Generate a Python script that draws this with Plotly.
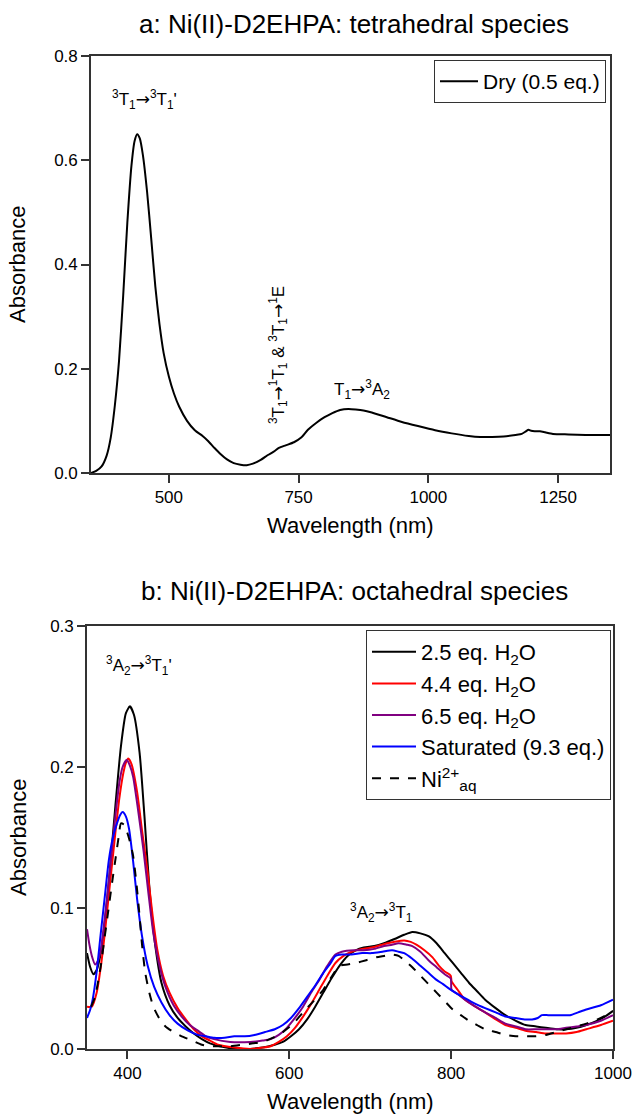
import plotly.graph_objects as go

# ---------------- Data ----------------
dry_wl = [350, 360, 370, 380, 388, 396, 404, 412, 420, 428, 434, 439, 444, 450, 458, 466, 474, 482, 490, 500,
          510, 520, 535, 550, 565, 575, 588, 600, 612, 625, 638, 650, 662, 677, 690, 702, 712, 725, 741, 755,
          768, 785, 800, 815, 830, 846, 860, 875, 891, 920, 949, 980, 1013, 1045, 1078, 1100, 1123, 1145, 1168,
          1180, 1188, 1193, 1198, 1205, 1215, 1225, 1240, 1270, 1303, 1350]
dry_abs = [0.000, 0.004, 0.012, 0.033, 0.068, 0.130, 0.215, 0.340, 0.480, 0.590, 0.637, 0.650, 0.642, 0.610,
           0.540, 0.450, 0.357, 0.285, 0.230, 0.185, 0.152, 0.127, 0.100, 0.082, 0.071, 0.062, 0.048, 0.036,
           0.026, 0.019, 0.016, 0.015, 0.018, 0.025, 0.034, 0.041, 0.048, 0.053, 0.059, 0.068, 0.083, 0.097,
           0.107, 0.115, 0.121, 0.123, 0.122, 0.120, 0.116, 0.107, 0.098, 0.090, 0.082, 0.076, 0.071, 0.069,
           0.069, 0.070, 0.073, 0.075, 0.080, 0.083, 0.081, 0.080, 0.080, 0.078, 0.075, 0.074, 0.073, 0.073]

eq25_wl = [350, 354, 358, 362, 367, 372, 378, 385, 392, 398, 403, 408, 415, 421, 427, 434, 442, 452, 462, 472,
           482, 492, 502, 522, 542, 567, 582, 592, 602, 612, 622, 632, 642, 652, 662, 672, 682, 692, 705, 717,
           730, 742, 752, 762, 772, 782, 792, 802, 812, 822, 832, 842, 855, 867, 880, 892, 905, 917, 930, 942,
           955, 967, 980, 990, 1000]
eq25_abs = [0.068, 0.058, 0.053, 0.056, 0.068, 0.090, 0.125, 0.172, 0.215, 0.238, 0.243, 0.237, 0.210, 0.165,
            0.115, 0.075, 0.047, 0.031, 0.022, 0.016, 0.011, 0.007, 0.004, 0.001, 0.000, 0.001, 0.003, 0.005,
            0.009, 0.014, 0.021, 0.030, 0.040, 0.050, 0.059, 0.066, 0.070, 0.072, 0.073, 0.075, 0.078, 0.081,
            0.083, 0.082, 0.080, 0.075, 0.068, 0.061, 0.054, 0.047, 0.041, 0.035, 0.029, 0.024, 0.020, 0.017,
            0.016, 0.015, 0.014, 0.014, 0.015, 0.017, 0.020, 0.023, 0.027]

eq44_wl = [350, 356, 362, 367, 372, 378, 385, 390, 395, 398, 401, 405, 412, 418, 425, 431, 437, 444, 452, 462,
           472, 482, 492, 502, 512, 532, 552, 567, 577, 587, 597, 607, 617, 627, 637, 647, 657, 667, 677, 690,
           702, 715, 730, 742, 750, 757, 767, 777, 785, 792, 799.5, 800.5, 808, 817, 830, 842, 855, 867, 880,
           892, 905, 917, 930, 942, 955, 967, 985, 1000]
eq44_abs = [0.030, 0.030, 0.040, 0.058, 0.082, 0.115, 0.153, 0.178, 0.196, 0.203, 0.206, 0.202, 0.182, 0.155,
            0.125, 0.095, 0.070, 0.052, 0.040, 0.029, 0.021, 0.014, 0.009, 0.006, 0.003, 0.001, 0.000, 0.001,
            0.002, 0.005, 0.009, 0.015, 0.023, 0.032, 0.042, 0.052, 0.061, 0.066, 0.069, 0.071, 0.072, 0.074,
            0.076, 0.077, 0.076, 0.074, 0.070, 0.065, 0.059, 0.055, 0.052, 0.048, 0.042, 0.035, 0.030, 0.026,
            0.021, 0.017, 0.015, 0.013, 0.012, 0.011, 0.011, 0.011, 0.012, 0.014, 0.017, 0.020]

eq65_wl = [350, 353, 356, 360, 363, 367, 371, 375, 380, 385, 390, 394, 399, 403, 407, 413, 420, 426, 432, 440,
           447, 457, 467, 477, 487, 497, 507, 527, 552, 567, 577, 587, 597, 607, 617, 627, 637, 647, 657, 665,
           680, 692, 705, 717, 727, 735, 745, 752, 762, 772, 782, 792, 799.5, 800.5, 808, 817, 830, 842, 855,
           867, 880, 892, 905, 917, 930, 942, 955, 967, 985, 1000]
eq65_abs = [0.085, 0.074, 0.066, 0.060, 0.062, 0.070, 0.088, 0.108, 0.137, 0.165, 0.189, 0.200, 0.205, 0.201,
            0.193, 0.170, 0.140, 0.110, 0.082, 0.058, 0.044, 0.031, 0.023, 0.017, 0.013, 0.009, 0.007, 0.005,
            0.005, 0.006, 0.007, 0.010, 0.015, 0.022, 0.030, 0.040, 0.049, 0.059, 0.067, 0.069, 0.070, 0.070,
            0.071, 0.073, 0.074, 0.075, 0.074, 0.073, 0.069, 0.063, 0.058, 0.053, 0.050, 0.042, 0.039, 0.035,
            0.030, 0.026, 0.022, 0.018, 0.016, 0.014, 0.014, 0.014, 0.014, 0.015, 0.016, 0.017, 0.020, 0.024]

sat_wl = [350, 354, 357, 362, 367, 372, 377, 382, 387, 391, 394, 398, 402, 407, 412, 418, 425, 433, 442, 452,
          462, 475, 487, 497, 507, 520, 532, 545, 557, 570, 582, 592, 602, 612, 622, 632, 642, 650, 657, 665,
          677, 690, 702, 715, 727, 735, 742, 752, 762, 772, 782, 790, 797, 805, 817, 830, 842, 855, 867, 880,
          892, 900, 907, 912, 920, 932, 947, 957, 967, 985, 1000]
sat_abs = [0.022, 0.028, 0.035, 0.055, 0.082, 0.108, 0.134, 0.150, 0.160, 0.166, 0.168, 0.165, 0.156, 0.133,
           0.106, 0.080, 0.059, 0.044, 0.033, 0.024, 0.018, 0.013, 0.010, 0.009, 0.008, 0.008, 0.009, 0.009,
           0.010, 0.012, 0.014, 0.017, 0.022, 0.029, 0.037, 0.045, 0.054, 0.060, 0.066, 0.067, 0.067, 0.068,
           0.068, 0.069, 0.070, 0.069, 0.068, 0.064, 0.059, 0.054, 0.049, 0.046, 0.043, 0.040, 0.036, 0.032,
           0.029, 0.026, 0.023, 0.022, 0.021, 0.021, 0.022, 0.024, 0.024, 0.024, 0.024, 0.026, 0.028, 0.031, 0.035]

aq_wl = [355, 360, 367, 372, 377, 381, 385, 389, 392, 396, 400, 404, 407, 411, 415, 418, 422, 427, 432, 440,
         447, 457, 467, 480, 492, 502, 512, 527, 542, 555, 567, 580, 592, 605, 617, 630, 642, 652, 662, 672,
         682, 695, 707, 717, 727, 735, 742, 752, 762, 772, 782, 792, 802, 812, 822, 832, 842, 855, 867, 880,
         892, 905, 917, 930, 942, 955, 967, 985, 1000]
aq_abs = [0.030, 0.037, 0.059, 0.080, 0.101, 0.118, 0.134, 0.150, 0.160, 0.159, 0.153, 0.145, 0.137, 0.118,
          0.094, 0.074, 0.054, 0.040, 0.030, 0.021, 0.016, 0.012, 0.009, 0.006, 0.003, 0.002, 0.002, 0.002,
          0.003, 0.004, 0.005, 0.008, 0.012, 0.018, 0.026, 0.034, 0.042, 0.051, 0.059, 0.060, 0.061, 0.063,
          0.065, 0.066, 0.067, 0.066, 0.063, 0.058, 0.052, 0.046, 0.040, 0.034, 0.028, 0.024, 0.020, 0.017,
          0.014, 0.012, 0.010, 0.009, 0.009, 0.009, 0.010, 0.012, 0.014, 0.016, 0.018, 0.022, 0.027]

top_xticks = [500, 750, 1000, 1250]
top_yticks = [0.0, 0.2, 0.4, 0.6, 0.8]
bot_xticks = [400, 600, 800, 1000]
bot_yticks = [0.0, 0.1, 0.2, 0.3]

# ---------------- Figure ----------------
W, H = 635, 1116
FONT = "Liberation Sans, Arial, sans-serif"
AX = "#333333"

fig = go.Figure()

fig.add_trace(go.Scatter(x=dry_wl, y=dry_abs, mode="lines", name="Dry (0.5 eq.)",
                         line=dict(color="black", width=2, shape="spline", smoothing=0.6),
                         xaxis="x", yaxis="y", legend="legend"))

bot_series = [
    (eq25_wl, eq25_abs, "2.5 eq. H<sub>2</sub>O", "#000000", "solid"),
    (eq44_wl, eq44_abs, "4.4 eq. H<sub>2</sub>O", "#ff0000", "solid"),
    (eq65_wl, eq65_abs, "6.5 eq. H<sub>2</sub>O", "#800080", "solid"),
    (sat_wl, sat_abs, "Saturated (9.3 eq.)", "#0000ff", "solid"),
    (aq_wl, aq_abs, "Ni<sup>2+</sup><sub>aq</sub>", "#000000", "dash"),
]
for wl, ab, nm, col, dsh in bot_series:
    fig.add_trace(go.Scatter(x=wl, y=ab, mode="lines", name=nm,
                             line=dict(color=col, width=2, dash=dsh, shape="spline", smoothing=0.6),
                             xaxis="x2", yaxis="y2", legend="legend2"))

def px_x(p):
    return p / W

def px_y(p):
    return 1 - p / H

axis_common = dict(showline=True, linecolor=AX, linewidth=1.6, mirror=True, ticks="outside",
                   ticklen=8, tickwidth=1.6, tickcolor=AX, showgrid=False, zeroline=False,
                   automargin=False, tickfont=dict(family=FONT, size=17, color="black"))

fig.update_layout(
    width=W, height=H, autosize=False,
    margin=dict(l=0, r=0, t=0, b=0, pad=0, autoexpand=False),
    paper_bgcolor="white", plot_bgcolor="white",
    font=dict(family=FONT, color="black"),
    xaxis=dict(domain=[px_x(91), px_x(610)], range=[350, 1350], tickvals=top_xticks,
               anchor="y", **axis_common),
    yaxis=dict(domain=[px_y(473), px_y(56)], range=[0, 0.8], tickvals=top_yticks,
               tickformat=".1f", anchor="x", **axis_common),
    xaxis2=dict(domain=[px_x(87), px_x(613)], range=[350, 1000], tickvals=bot_xticks,
                anchor="y2", **axis_common),
    yaxis2=dict(domain=[px_y(1049), px_y(626)], range=[0, 0.3], tickvals=bot_yticks,
                tickformat=".1f", anchor="x2", **axis_common),
    legend=dict(x=px_x(606), y=px_y(60), xanchor="right", yanchor="top", itemwidth=38,
                bgcolor="white", bordercolor=AX, borderwidth=1,
                font=dict(family=FONT, size=21, color="black")),
    legend2=dict(x=px_x(611), y=px_y(630), xanchor="right", yanchor="top", itemwidth=44,
                 bgcolor="white", bordercolor=AX, borderwidth=1,
                 font=dict(family=FONT, size=22, color="black")),
    showlegend=True,
)

ARROW = "<span style=\"font-family:'DejaVu Sans'\">→</span>"

def ann(text, x, y, xref="paper", yref="paper", size=17, angle=0):
    return dict(text=text, x=x, y=y, xref=xref, yref=yref, xanchor="center", yanchor="middle",
                showarrow=False, textangle=angle, font=dict(family=FONT, size=size, color="black"))

annotations = [
    ann("a: Ni(II)-D2EHPA: tetrahedral species", px_x(354), px_y(24), size=26),
    ann("b: Ni(II)-D2EHPA: octahedral species", px_x(354), px_y(591), size=26),
    ann("Wavelength (nm)", px_x(350), px_y(525), size=22),
    ann("Wavelength (nm)", px_x(350), px_y(1101), size=22),
    ann("Absorbance", px_x(18), px_y(265), size=22, angle=-90),
    ann("Absorbance", px_x(18), px_y(838), size=22, angle=-90),
    ann("<sup>3</sup>T<sub>1</sub>" + ARROW + "<sup>3</sup>T<sub>1</sub>'", 454, 0.716, "x", "y"),
    ann("<sup>3</sup>T<sub>1</sub>" + ARROW + "<sup>1</sup>T<sub>1</sub> &amp; <sup>3</sup>T<sub>1</sub>"
        + ARROW + "<sup>1</sup>E", 710, 0.226, "x", "y", angle=-90),
    ann("T<sub>1</sub>" + ARROW + "<sup>3</sup>A<sub>2</sub>", 872, 0.161, "x", "y"),
    ann("<sup>3</sup>A<sub>2</sub>" + ARROW + "<sup>3</sup>T<sub>1</sub>'", 414, 0.272, "x2", "y2"),
    ann("<sup>3</sup>A<sub>2</sub>" + ARROW + "<sup>3</sup>T<sub>1</sub>", 714, 0.0965, "x2", "y2"),
]
fig.update_layout(annotations=annotations)

fig.write_html("out.html", config={"displayModeBar": False},
               post_script="document.body.style.margin='0';document.body.style.overflow='hidden';")
